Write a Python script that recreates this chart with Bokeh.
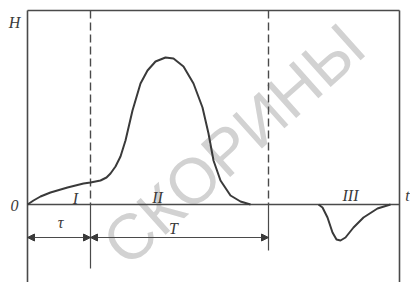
from bokeh.plotting import figure
from bokeh.models import Range1d, Arrow, NormalHead, ColumnDataSource
from bokeh.core.properties import value
from bokeh.embed import file_html
from bokeh.resources import INLINE

# ---- data (time t, signal H; arbitrary units) ----
pulse_t = [0, 0.6, 1.3, 2.3, 4.0, 5.6, 6.3, 7.3, 7.9, 8.3, 8.8, 9.3, 9.8, 10.5, 11.3,
           12.0, 12.8, 13.8, 14.6, 15.6, 16.6, 17.5, 18.1, 18.6, 19.3, 20.3, 21.3, 22.3]
pulse_h = [0, 0.4, 0.8, 1.2, 1.7, 2.1, 2.2, 2.4, 2.7, 3.1, 3.8, 4.8, 6.4, 9.4, 12.1,
           13.4, 14.3, 14.7, 14.6, 13.8, 12.1, 9.7, 7.1, 4.4, 2.4, 0.9, 0.3, 0.0]
dip_t = [29.1, 29.5, 30.0, 30.5, 30.9, 31.3, 31.8, 32.6, 33.6, 35.0, 36.3]
dip_h = [0, -0.3, -1.3, -2.8, -3.5, -3.6, -3.3, -2.3, -1.3, -0.4, 0]

tau = 6.3        # end of stage I
T_end = 24.1     # end of stage II
t_end = 37.2     # right edge of frame
h_top = 19.4     # top of frame
arrow_h = -3.3   # level of dimension arrows

label_text = ["H", "0", "I", "II", "III", "\u03c4", "T", "t"]
label_x = [-1.3, -1.3, 4.8, 13.0, 32.3, 3.3, 14.6, 38.0]
label_y = [18.2, -0.1, 0.6, 0.7, 0.9, -1.8, -2.4, 0.9]

X0, X1 = -2.7, 38.3
Y0, Y1 = -7.8, 20.4

p = figure(width=410, height=282, output_backend="svg", toolbar_location=None,
           x_range=Range1d(X0, X1), y_range=Range1d(Y0, Y1),
           min_border=0, outline_line_color=None, background_fill_color="white")
p.xaxis.visible = False
p.yaxis.visible = False
p.xgrid.visible = False
p.ygrid.visible = False

# watermark
p.text(x=[20.6], y=[6.0], text=["СКОРИНЫ"], angle=0.73, text_align="center",
       text_baseline="middle", text_font=value("Liberation Sans"),
       text_font_size="64px", text_color="#d2d2d2")

ink = "#3a3a3a"
frame = "#4a4a4a"
# frame lines
p.segment(x0=[0, t_end, 0], y0=[h_top, h_top, h_top], x1=[t_end, t_end, 0], y1=[h_top, Y0, Y0],
          line_color=frame, line_width=1.6)
# baseline
p.segment(x0=[0], y0=[0], x1=[t_end], y1=[0], line_color=frame, line_width=1.4)
# dashed stage boundaries above baseline
p.segment(x0=[tau, T_end], y0=[h_top, h_top], x1=[tau, T_end], y1=[0, 0],
          line_color=frame, line_width=1.4, line_dash="8 4")
# solid continuations below
p.segment(x0=[tau, T_end], y0=[0, 0], x1=[tau, T_end], y1=[-6.4, -4.6],
          line_color=frame, line_width=1.2)

# curves
p.line(pulse_t, pulse_h, line_color=ink, line_width=2, line_join="round")
p.line(dip_t, dip_h, line_color=ink, line_width=2, line_join="round")

# dimension arrows
for a, b in [(0, tau), (tau, T_end)]:
    p.add_layout(Arrow(x_start=a, y_start=arrow_h, x_end=b, y_end=arrow_h,
                       line_color=frame, line_width=1.2,
                       start=NormalHead(size=7, fill_color=ink, line_color=ink),
                       end=NormalHead(size=7, fill_color=ink, line_color=ink)))

src = ColumnDataSource(dict(x=label_x, y=label_y, text=label_text))
p.text(x="x", y="y", text="text", source=src, text_align="center", text_baseline="middle",
       text_font=value("Liberation Serif"), text_font_style="italic",
       text_font_size="16px", text_color=ink)

open("out.html", "w").write(file_html(p, INLINE))
